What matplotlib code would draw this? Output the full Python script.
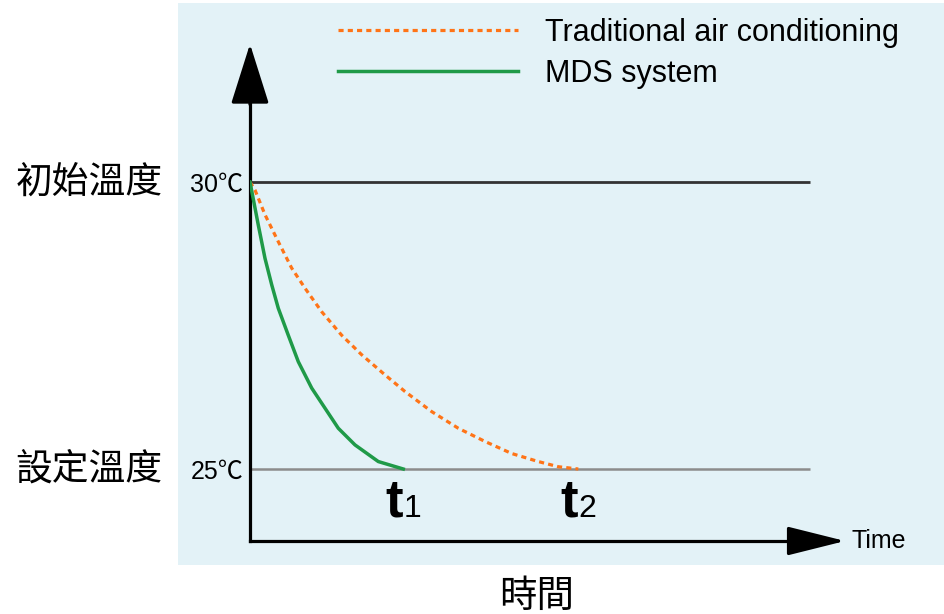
import matplotlib
matplotlib.use("Agg")
import matplotlib.pyplot as plt
from matplotlib.patches import Rectangle

# cooling curves, time in arbitrary units, temperature in C
mds_time = [0.0, 0.083, 0.15, 0.217, 0.283, 0.383, 0.483, 0.617, 0.75,
            0.883, 1.05, 1.283, 1.533]
mds_temp = [30.0, 29.25, 28.67, 28.21, 27.80, 27.33, 26.87, 26.41, 26.06,
            25.71, 25.42, 25.13, 25.0]
trad_time = [0.0, 0.05, 0.15, 0.283, 0.417, 0.55, 0.717, 0.917, 1.117, 1.35,
             1.55, 1.817, 2.083, 2.35, 2.617, 2.883, 3.083, 3.283]
trad_temp = [30.0, 29.86, 29.43, 28.96, 28.50, 28.15, 27.74, 27.33, 26.99,
             26.64, 26.35, 26.00, 25.71, 25.48, 25.27, 25.13, 25.04, 25.0]

start_temp = 30
set_temp = 25
temp_labels = ["25℃", "30℃"]
side_labels = ["設定溫度", "初始溫度"]
legend_labels = ["Traditional air conditioning", "MDS system"]

orange = "#ff7417"
green = "#1f9a48"
bg = "#e3f2f7"

latin = ["Liberation Sans", "Noto Sans CJK TC"]
cjk = ["Noto Sans CJK TC", "DejaVu Sans"]

fig = plt.figure(figsize=(9.45, 6.14), dpi=100)
fig.patches.append(Rectangle((178 / 945, 49 / 614), 767 / 945, 562 / 614,
                             transform=fig.transFigure, facecolor=bg,
                             edgecolor="none", zorder=-10))

ax = fig.add_axes([250 / 945, 73 / 614, 550 / 945, 441 / 614])
ax.set_facecolor("none")
ax.set_xlim(0, 5.5)
ax.set_ylim(23.746, 31.4286)

for s in ["top", "right"]:
    ax.spines[s].set_visible(False)
for s in ["left", "bottom"]:
    ax.spines[s].set_linewidth(2.3)
    ax.spines[s].set_color("black")

ax.set_xticks([])
ax.set_yticks([set_temp, start_temp])
ax.set_yticklabels(temp_labels, family=latin, fontsize=18)
ax.tick_params(axis="y", length=0, pad=5)

# reference lines
ax.hlines(start_temp, 0, 5.6, color="#333333", lw=2, clip_on=False, zorder=1)
ax.hlines(set_temp, 0, 5.6, color="#8c8c8c", lw=1.8, clip_on=False, zorder=1)

l1, = ax.plot(trad_time, trad_temp, color=orange, lw=2.3,
              linestyle=(0, (1.6, 1.3)), zorder=3)
l2, = ax.plot(mds_time, mds_temp, color=green, lw=2.5, zorder=3)

# axis arrows
ax.annotate("", xy=(0, 1.127), xytext=(0, 0.99), xycoords="axes fraction",
            arrowprops=dict(arrowstyle="-|>,head_length=1.9,head_width=0.6",
                            mutation_scale=20, color="black", lw=2.3,
                            shrinkA=0, shrinkB=0),
            annotation_clip=False)
ax.annotate("", xy=(1.082, 0), xytext=(0.99, 0), xycoords="axes fraction",
            arrowprops=dict(arrowstyle="-|>,head_length=1.8,head_width=0.45",
                            mutation_scale=20, color="black", lw=2.3,
                            shrinkA=0, shrinkB=0),
            annotation_clip=False)
ax.annotate("Time", xy=(1, 0), xycoords="axes fraction", xytext=(37, 0),
            textcoords="offset points", ha="left", va="center",
            family=latin, fontsize=18, annotation_clip=False)

# t1 / t2 markers
for i, t_end in enumerate([mds_time[-1], trad_time[-1]]):
    ax.annotate("t", xy=(t_end, set_temp), xytext=(0, -34.5),
                textcoords="offset points", ha="right", va="baseline",
                family=latin, fontsize=38, fontweight="bold",
                annotation_clip=False)
    ax.annotate(str(i + 1), xy=(t_end, set_temp), xytext=(0, -34.5),
                textcoords="offset points", ha="left", va="baseline",
                family=latin, fontsize=23, annotation_clip=False)

# chinese side labels
for lab, temp in zip(side_labels, [set_temp, start_temp]):
    ax.annotate(lab, xy=(0, temp), xytext=(-63, 0),
                textcoords="offset points", ha="right", va="center",
                family=cjk, fontsize=26.5, annotation_clip=False)

fig.text(537 / 945, 1 - 596 / 614, "時間", ha="center", va="center",
         family=cjk, fontsize=27)

leg = fig.legend([l1, l2], legend_labels, loc="upper left",
                 bbox_to_anchor=(338 / 945, 1 - 18 / 614),
                 frameon=False, borderpad=0, borderaxespad=0,
                 handlelength=5.9, handletextpad=0.88, labelspacing=0.35,
                 prop={"family": latin, "size": 22})

fig.savefig("out.png", dpi=100)
